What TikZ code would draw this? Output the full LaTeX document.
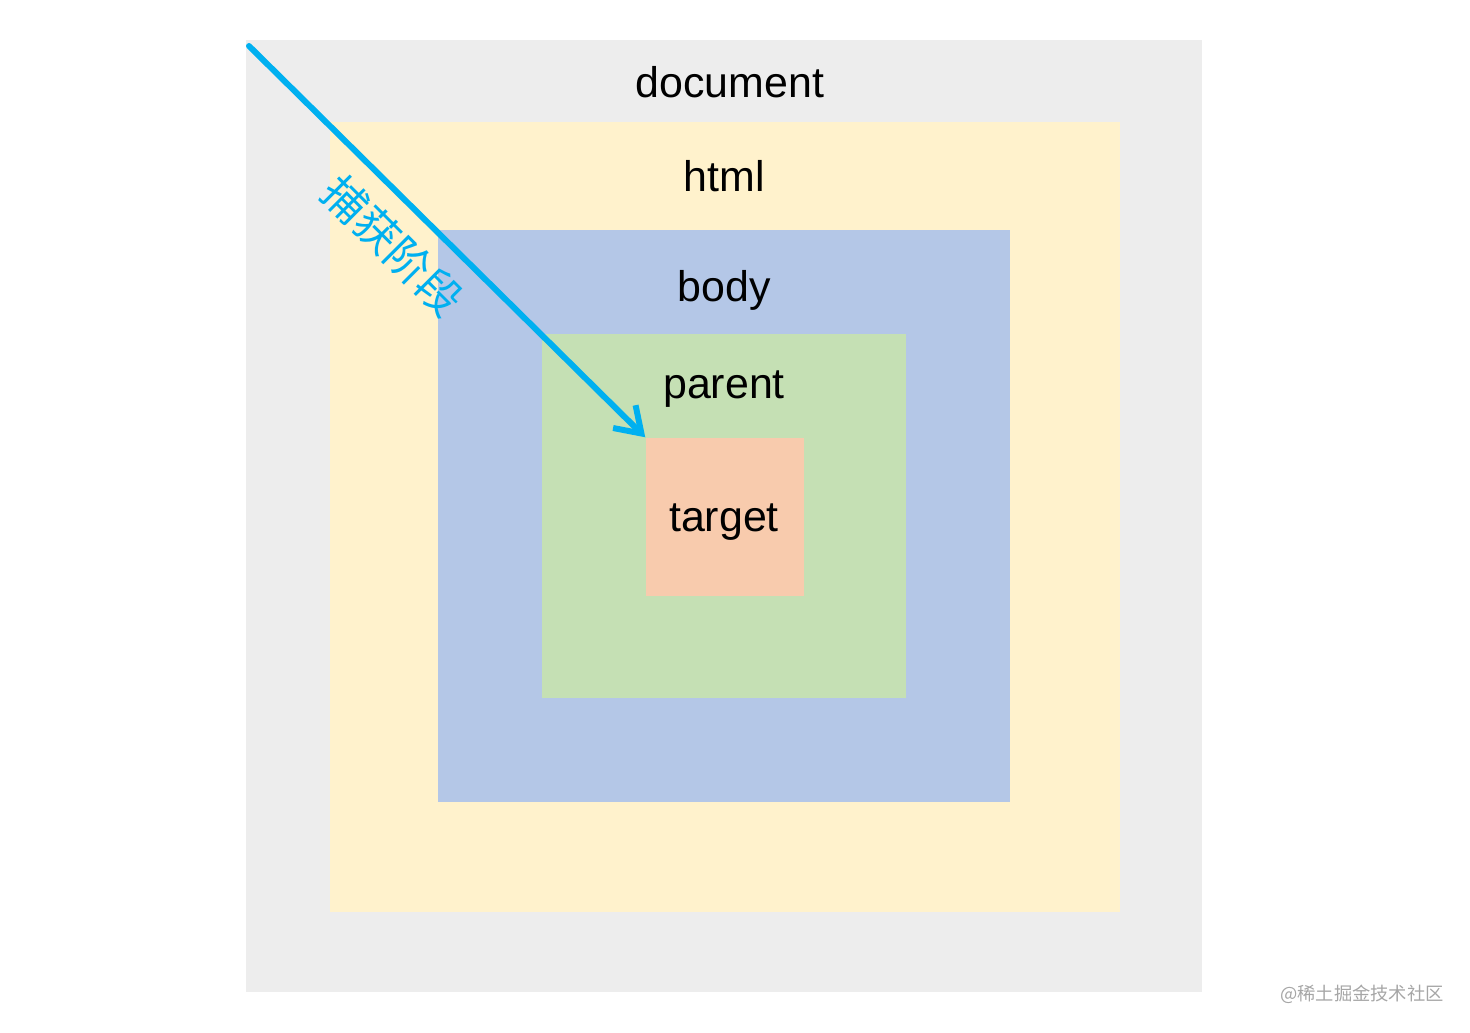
\documentclass[tikz,border=0pt]{standalone}
\usepackage{fontspec}
\setmainfont{Liberation Sans}
\newfontfamily\cjk{Noto Sans CJK SC}
\usetikzlibrary{arrows.meta}
\definecolor{docgray}{HTML}{EDEDED}
\definecolor{htmlyellow}{HTML}{FFF2CC}
\definecolor{bodyblue}{HTML}{B4C7E7}
\definecolor{parentgreen}{HTML}{C5E0B4}
\definecolor{targetorange}{HTML}{F8CBAD}
\definecolor{phaseblue}{HTML}{00B0F0}

\begin{document}
\begin{tikzpicture}[x=0.01cm,y=-0.01cm,box/.style={draw=none,rectangle,inner sep=0pt},tag/.style={font=\fontsize{12.2}{14}\selectfont,text=black,inner sep=0pt},phase/.style={color=phaseblue,line width=1.7pt,line cap=round,-{Straight Barb[length=2.4mm,width=3.2mm,line width=1.7pt]}}]
            \useasboundingbox (0,0) rectangle (1470,1032);

            \node[box,fill=docgray,minimum width=9.56cm,minimum height=9.52cm] (document) at (724,516) {};
            \node[box,fill=htmlyellow,minimum width=7.90cm,minimum height=7.90cm] (html) at (725,517) {};
            \node[box,fill=bodyblue,minimum width=5.72cm,minimum height=5.72cm] (body) at (724,516) {};
            \node[box,fill=parentgreen,minimum width=3.64cm,minimum height=3.64cm] (parent) at (724,516) {};
            \node[box,fill=targetorange,minimum width=1.58cm,minimum height=1.58cm] (target) at (725,517) {};

            \node[tag] (document label) at (730,82) {document};
            \node[tag] (html label) at (724,176) {html};
            \node[tag] (body label) at (724,290) {body};
            \node[tag] (parent label) at (724,389) {parent};
            \node[tag] (target label) at (724,522) {target};

            \coordinate (start) at (249,46);
            \path (start) edge[phase] (target.north west);

            \node[rotate=-45,text=phaseblue,font=\cjk\fontsize{12.5}{14}\selectfont,inner sep=0pt] (phase label) at (393,246) {捕获阶段};
            \node[text=black!35,font=\cjk\fontsize{5.2}{6}\selectfont,inner sep=0pt] (mark) at (1362,994) {@稀土掘金技术社区};
        \end{tikzpicture}
\end{document}
